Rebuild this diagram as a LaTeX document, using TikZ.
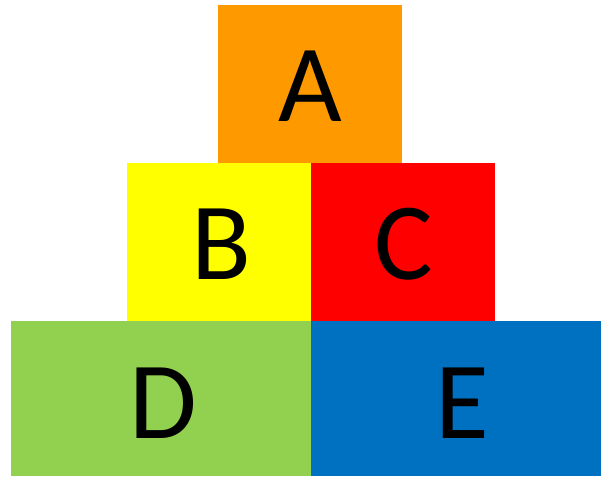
\documentclass[tikz,border=0pt]{standalone}
\usepackage{fontspec}
\setmainfont{Carlito}
\definecolor{cA}{HTML}{FF9900}
\definecolor{cB}{HTML}{FFFF00}
\definecolor{cC}{HTML}{FF0000}
\definecolor{cD}{HTML}{92D050}
\definecolor{cE}{HTML}{0070C0}
\tikzset{
  blockbox/.style={draw=none, inner sep=0pt, outer sep=0pt, anchor=north west},
  blocklabel/.style={inner sep=0pt, anchor=base, font=\fontsize{110}{110}\selectfont, text=black}
}
\begin{document}
\begin{tikzpicture}[x=1pt,y=1pt]
\useasboundingbox[fill=white] (0,0) rectangle (601,476);
% boxes (top-left corner, image y flipped)
\node[blockbox, fill=cA, minimum width=184pt, minimum height=158pt] (boxA) at (218,471) {};
\node[blockbox, fill=cB, minimum width=184pt, minimum height=158pt] (boxB) at (126.5,313) {};
\node[blockbox, fill=cC, minimum width=184pt, minimum height=158pt] (boxC) at (310.5,313) {};
\node[blockbox, fill=cD, minimum width=299.5pt, minimum height=155pt] (boxD) at (11,155) {};
\node[blockbox, fill=cE, minimum width=290.5pt, minimum height=155pt] (boxE) at (310.5,155) {};
% labels
\node[blocklabel] (lA) at (310,354) {A};
\node[blocklabel] (lB) at (221,196) {B};
\node[blocklabel] (lC) at (404,196) {C};
\node[blocklabel] (lD) at (163,38) {D};
\node[blocklabel] (lE) at (462,38) {E};
\end{tikzpicture}
\end{document}
